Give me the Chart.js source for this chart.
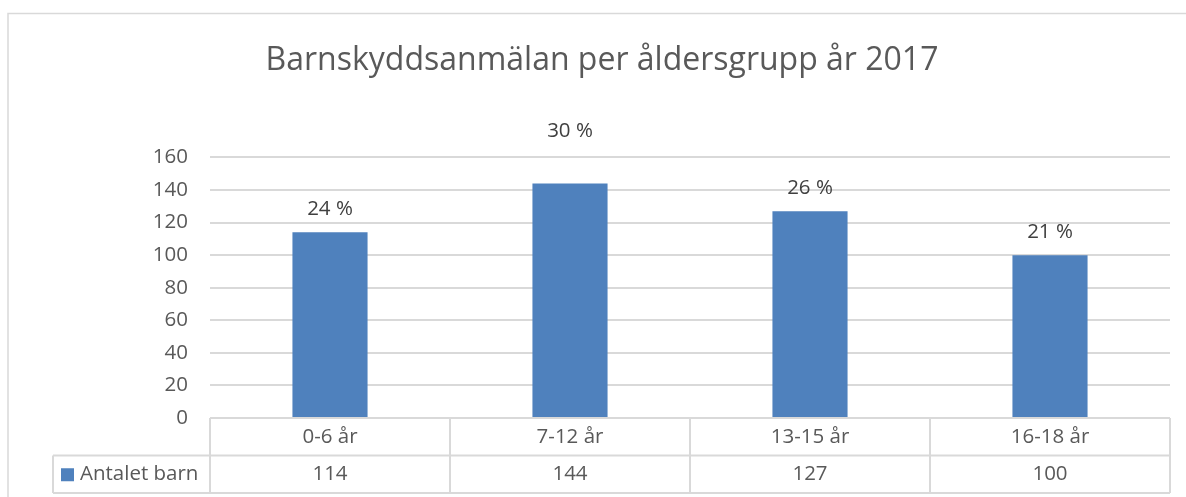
<!DOCTYPE html>
<html>
<head>
<meta charset="utf-8">
<script src="https://cdn.jsdelivr.net/npm/chart.js@4.4.1/dist/chart.umd.min.js"></script>
<style>
html,body{margin:0;padding:0;background:#fff;}
#wrap{width:1186px;height:497px;position:relative;}
</style>
</head>
<body>
<div id="wrap"><canvas id="c" width="1186" height="497"></canvas></div>
<script>
const categories = ['0-6 år', '7-12 år', '13-15 år', '16-18 år'];
const seriesName = 'Antalet barn';
const values = [114, 144, 127, 100];
const percentLabels = ['24 %', '30 %', '26 %', '21 %'];
const yTicks = [0, 20, 40, 60, 80, 100, 120, 140, 160];

const FONT = '"Open Sans", Lato, sans-serif';
const TEXT = '#595959';
const LINE = '#d9d9d9';

const tablePlugin = {
  id: 'tablePlugin',
  afterDraw(chart) {
    const ctx = chart.ctx;
    const area = chart.chartArea;
    const x = chart.scales.x;
    const rowH = 37.5;
    const top = area.bottom;
    const mid = top + rowH;
    const bot = mid + rowH;
    const legendLeft = 53;
    ctx.save();
    // outer border
    ctx.strokeStyle = LINE;
    ctx.lineWidth = 1.5;
    ctx.beginPath();
    ctx.moveTo(8, 520); ctx.lineTo(8, 13.5); ctx.lineTo(1200, 13.5);
    ctx.stroke();
    // table lines
    ctx.lineWidth = 2;
    ctx.beginPath();
    ctx.moveTo(area.left, top); ctx.lineTo(area.right, top);
    ctx.moveTo(legendLeft, mid); ctx.lineTo(area.right, mid);
    ctx.moveTo(legendLeft, bot); ctx.lineTo(area.right, bot);
    ctx.moveTo(legendLeft, mid); ctx.lineTo(legendLeft, bot);
    const n = categories.length;
    const w = (area.right - area.left) / n;
    for (let i = 0; i <= n; i++) {
      const lx = area.left + i * w;
      ctx.moveTo(lx, top); ctx.lineTo(lx, bot);
    }
    ctx.stroke();
    // text
    ctx.fillStyle = TEXT;
    ctx.font = '20.5px ' + FONT;
    ctx.textAlign = 'center';
    ctx.textBaseline = 'middle';
    categories.forEach((c, i) => {
      const cx = x.getPixelForValue(i);
      ctx.fillText(c, cx, top + rowH / 2);
      ctx.fillText(String(values[i]), cx, mid + rowH / 2);
    });
    // legend cell
    ctx.fillStyle = '#4f81bd';
    ctx.fillRect(61, mid + rowH / 2 - 6, 13, 13);
    ctx.fillStyle = TEXT;
    ctx.textAlign = 'left';
    ctx.fillText(seriesName, 80, mid + rowH / 2);
    // percent labels
    const meta = chart.getDatasetMeta(0);
    const extra = [0, 29, 0, 0];
    ctx.fillStyle = '#404040';
    ctx.textAlign = 'center';
    ctx.textBaseline = 'alphabetic';
    meta.data.forEach((bar, i) => {
      ctx.fillText(percentLabels[i], bar.x, bar.y - 17 - extra[i]);
    });
    ctx.restore();
  }
};

new Chart(document.getElementById('c'), {
  type: 'bar',
  data: {
    labels: categories,
    datasets: [{
      label: seriesName,
      data: values,
      backgroundColor: '#4f81bd',
      barPercentage: 0.313,
      categoryPercentage: 1.0
    }]
  },
  options: {
    responsive: false,
    animation: false,
    devicePixelRatio: 1,
    layout: { padding: { left: 34, right: 16, top: 0, bottom: 79 } },
    plugins: {
      legend: { display: false },
      tooltip: { enabled: false },
      title: {
        display: true,
        text: 'Barnskyddsanmälan per åldersgrupp år 2017',
        color: TEXT,
        font: { family: FONT, size: 32, weight: 'normal' },
        padding: { top: 42, bottom: 77 }
      }
    },
    scales: {
      x: { display: false },
      y: {
        min: 0, max: 160,
        afterFit(scale) { scale.width = 176; },
        afterBuildTicks(scale) { scale.ticks = yTicks.map(v => ({ value: v })); },
        ticks: { color: TEXT, font: { family: FONT, size: 20.5 }, padding: 22 },
        grid: { color: LINE, lineWidth: 2, drawTicks: false },
        border: { display: false }
      }
    }
  },
  plugins: [tablePlugin]
});
</script>
</body>
</html>
